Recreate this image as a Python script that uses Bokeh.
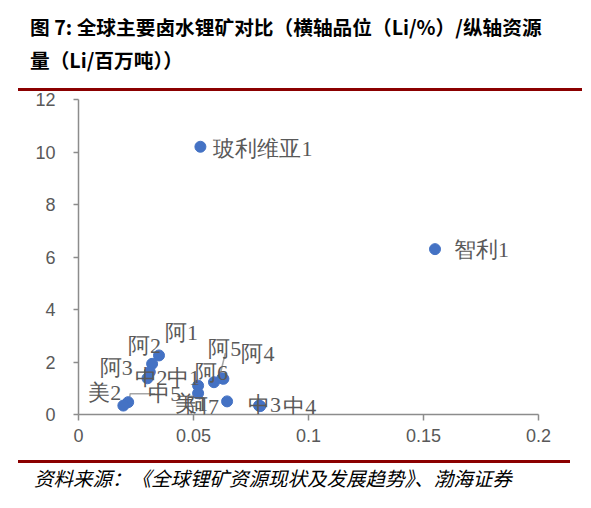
from bokeh.plotting import figure
from bokeh.models import ColumnDataSource, LabelSet, Div, FixedTicker, NumeralTickFormatter
from bokeh.layouts import column
from bokeh.embed import file_html
from bokeh.resources import INLINE

# datos: ley (Li %) vs recurso (Mt Li)
nombres = ["玻利维亚1", "智利1", "阿1", "阿2", "阿3", "中2", "中1", "美1",
           "中5", "美2", "阿6", "阿5", "阿4", "阿7", "中3", "中4"]
ley = [0.053, 0.155, 0.035, 0.032, 0.031, 0.030, 0.052, 0.052,
       0.0216, 0.0195, 0.0589, 0.0625, 0.063, 0.0646, 0.0785, 0.079]
recurso = [10.2, 6.3, 2.25, 1.93, 1.62, 1.38, 1.10, 0.81,
           0.47, 0.34, 1.23, 1.38, 1.36, 0.50, 0.34, 0.32]

x_ticks = [0, 0.05, 0.1, 0.15, 0.2]
y_ticks = [0, 2, 4, 6, 8, 10, 12]

titulo_1 = "图 7: 全球主要卤水锂矿对比（横轴品位（Li/%）/纵轴资源"
titulo_2 = "量（Li/百万吨））"
fuente = "资料来源：《全球锂矿资源现状及发展趋势》、渤海证券"

# desplazamiento de cada etiqueta (pixeles)
label_dx = [13, 19, 6, -24, -50, -13, -31, -23, 20, -35, -19, -14, 18, -41, -11, 23]
label_dy = [-2, 0, 23, 18, 4, 1, 8, -10, 9, 13, 10, 30, 25, -5, 1, 0]

# lineas guia: (indice del punto, recorrido en pixeles desde el punto)
guias = [(8, [(1, 1), (2, 8.5), (27, 8.5)]),
         (11, [(3, 25), (-2, 4)])]

rojo = "#8B0000"
gris = "#595959"

W, H = 575, 369
BL, BR, BT, BB = 70, 45, 8, 46
px_x = (W - BL - BR) / 0.2
px_y = (H - BT - BB) / 12.0

source = ColumnDataSource(data=dict(x=ley, y=recurso, name=nombres,
                                    dx=label_dx, dy=label_dy))

cabecera = Div(
    text=("<div style='margin-left:10px;width:552px;height:78px;"
          "border-bottom:3px solid %s;padding:2px 0 0 12px;box-sizing:content-box;"
          "font-family:\"Noto Sans CJK SC\";font-weight:bold;font-size:19.7px;"
          "line-height:33px;color:#000;white-space:nowrap'>%s<br>%s</div>")
         % (rojo, titulo_1, titulo_2),
    width=575, height=83, margin=0)

p = figure(width=W, height=H, x_range=(0, 0.2), y_range=(0, 12),
           output_backend="svg", toolbar_location=None,
           min_border_left=BL, min_border_right=BR,
           min_border_top=BT, min_border_bottom=BB)
p.grid.visible = False
p.outline_line_color = None

for ax in (p.xaxis, p.yaxis):
    ax.axis_line_color = "#8c8c8c"
    ax.axis_line_width = 1.5
    ax.major_tick_line_color = "#8c8c8c"
    ax.major_tick_line_width = 1.5
    ax.major_tick_in = 0
    ax.minor_tick_line_color = None
    ax.major_label_text_color = gris
    ax.major_label_text_font = "Liberation Sans"
    ax.major_label_text_font_size = "18px"

p.xaxis.ticker = FixedTicker(ticks=x_ticks)
p.xaxis.formatter = NumeralTickFormatter(format="0.[00]")
p.xaxis.major_tick_out = 6
p.xaxis.major_label_standoff = 8
p.yaxis.ticker = FixedTicker(ticks=y_ticks)
p.yaxis.major_tick_out = 5
p.yaxis.major_label_standoff = 18

gx, gy = [], []
for i, tramo in guias:
    gx.append([ley[i] + a / px_x for a, b in tramo])
    gy.append([recurso[i] + b / px_y for a, b in tramo])
p.multi_line(gx, gy, line_color="#a6a6a6", line_width=1.5)

p.scatter('x', 'y', source=source, size=11, color="#4472C4")

etiquetas = LabelSet(x='x', y='y', text='name', source=source,
                     x_offset='dx', y_offset='dy',
                     text_align="left", text_baseline="middle",
                     text_color=gris, text_font_size="22px",
                     text_font="Noto Sans CJK SC")
p.add_layout(etiquetas)

pie = Div(
    text=("<div style='margin-left:10px;width:552px;border-top:3px solid %s;"
          "padding:3px 0 0 16px;font-family:\"Noto Sans CJK SC\";font-style:italic;"
          "font-size:19.5px;line-height:24px;color:#000;white-space:nowrap'>%s</div>")
         % (rojo, fuente),
    width=575, height=40, margin=0)

layout = column(cabecera, p, pie, spacing=0, margin=(8, 0, 0, 8))

open("out.html", "w").write(file_html(layout, INLINE))
